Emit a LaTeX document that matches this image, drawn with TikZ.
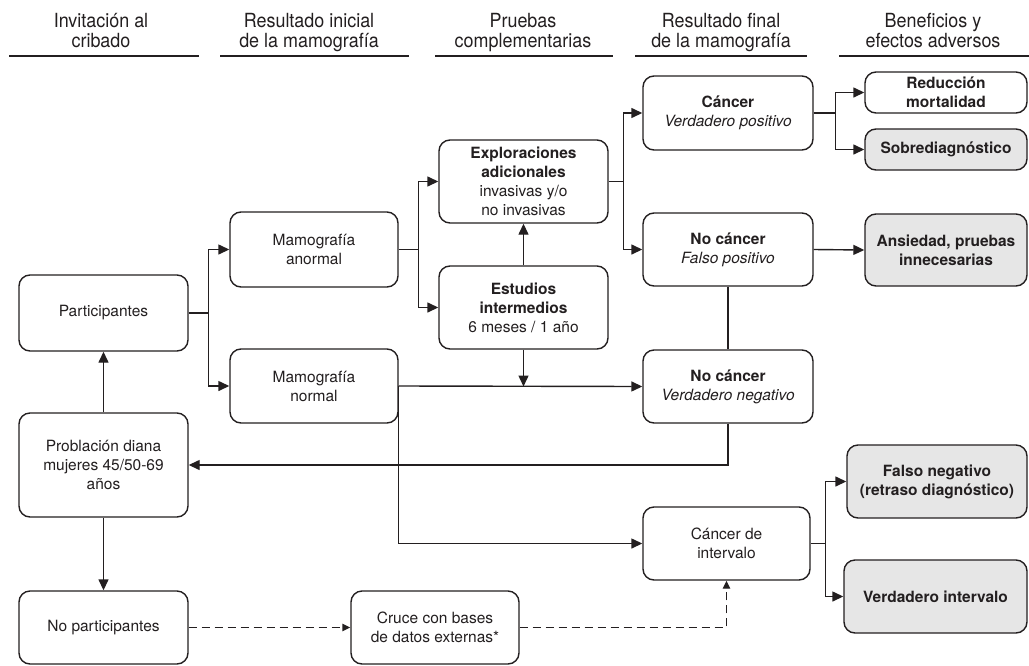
\documentclass[tikz,border=0pt]{standalone}
\usepackage{fontspec}
\setmainfont{TeX Gyre Heros}
\newfontfamily\headfamily[FakeStretch=0.92]{TeX Gyre Heros}
\usetikzlibrary{arrows.meta,calc}
\definecolor{ink}{RGB}{35,31,32}
\definecolor{shade}{RGB}{230,230,230}
\newcommand{\boxfont}{\fontsize{15.5}{19}\selectfont}
\newcommand{\headfont}{\headfamily\fontsize{19.5}{20}\selectfont}
\tikzset{
  box/.style={draw=ink, line width=1.4pt, rounded corners=11pt, fill=#1, align=center, font=\boxfont, text=ink, inner sep=2pt},
  box/.default={white},
  sz/.style 2 args={minimum width=#1, minimum height=#2},
  head/.style={font=\headfont, align=center, text=ink, inner sep=0pt, anchor=base},
  rule/.style={draw=ink, line width=1.6pt},
  link/.style={line width=1.4pt, draw=ink},
  arrow/.style={-{Triangle[length=11pt,width=10pt]}, line width=1.4pt, draw=ink},
  dasharrow/.style={-{Triangle[length=8pt,width=7.5pt]}, line width=1.4pt, draw=ink, dash pattern=on 8pt off 5pt}
}

\begin{document}
\begin{tikzpicture}[x=1pt, y=-1pt]
  \useasboundingbox (0,0) rectangle (1029,665);
  % column headers
  \node[head] (h1) at (101,47.5) {Invitación al\\cribado};
  \node[head] (h2) at (309,47.5) {Resultado inicial\\de la mamografía};
  \node[head] (h3) at (523,47.5) {Pruebas\\complementarias};
  \node[head] (h4) at (721,47.5) {Resultado final\\de la mamografía};
  \node[head] (h5) at (933,47.5) {Beneficios y\\efectos adversos};
  \foreach \xa/\xb in {9/199,220/409,435/613,635/807,839/1029}
    \draw[rule] (\xa,56) -- (\xb,56);

  % boxes
  \node[box, sz={169pt}{76pt}] (part) at (103.5,313) {Participantes};
  \node[box, sz={169pt}{104pt}] (pob) at (103.5,465) {Problación diana\\mujeres 45/50-69\\años};
  \node[box, sz={169pt}{73pt}] (nopart) at (103.5,627.5) {No participantes};
  \node[box, sz={168pt}{75pt}] (anorm) at (314,249.5) {Mamografía\\anormal};
  \node[box, sz={168pt}{74pt}] (norm) at (314,386) {Mamografía\\normal};
  \node[box, sz={169pt}{83pt}] (explo) at (523.5,181.5) {\textbf{Exploraciones}\\\textbf{adicionales}\\invasivas y/o\\no invasivas};
  \node[box, sz={169pt}{83pt}] (estud) at (523.5,307.5) {\textbf{Estudios}\\\textbf{intermedios}\\6 meses / 1 año};
  \node[box, sz={168pt}{73pt}] (cruce) at (435,627.5) {Cruce con bases\\de datos externas*};
  \node[box, sz={170pt}{74pt}] (vp) at (728,113) {\textbf{Cáncer}\\\textit{Verdadero positivo}};
  \node[box, sz={170pt}{73pt}] (fp) at (728,249.5) {\textbf{No cáncer}\\\textit{Falso positivo}};
  \node[box, sz={170pt}{73pt}] (vn) at (728,386.5) {\textbf{No cáncer}\\\textit{Verdadero negativo}};
  \node[box, sz={167pt}{73pt}] (intv) at (726.5,543.5) {Cáncer de\\intervalo};
  \node[box, sz={162pt}{41pt}, font=\boxfont\bfseries] (redu) at (946,92.5) {Reducción\\mortalidad};
  \node[box=shade, sz={162pt}{41pt}, font=\boxfont\bfseries] (sobre) at (946,149.5) {Sobrediagnóstico};
  \node[box=shade, sz={162pt}{72pt}, font=\boxfont\bfseries] (ansi) at (946,250) {Ansiedad, pruebas\\innecesarias};
  \node[box=shade, sz={180pt}{73pt}, font=\boxfont\bfseries] (fneg) at (937,481.5) {Falso negativo\\(retraso diagnóstico)};
  \node[box=shade, sz={183pt}{73pt}, font=\boxfont\bfseries] (vint) at (935.5,596.5) {Verdadero intervalo};

  % connectors
  \draw[link] (part.east) -- ++(20,0) coordinate (j1);
  \draw[arrow] (j1) |- (anorm.west);
  \draw[arrow] (j1) |- (norm.west);
  \draw[link] (anorm.east) -- ++(20,0) coordinate (j2);
  \draw[arrow] (j2) |- (explo.west);
  \draw[arrow] (j2) |- (estud.west);
  \draw[arrow] (estud.north) -- (explo.south);
  \draw[arrow] (estud.south) -- (estud.south |- vn.west);
  \draw[arrow] (norm.east) -- (vn.west);
  \draw[arrow] (norm.east) |- (intv.west);
  \draw[link] (explo.east) -- ++(15,0) coordinate (j3);
  \draw[arrow] (j3) |- (vp.west);
  \draw[arrow] (j3) |- (fp.west);
  \draw[link] (vp.east) -- ++(22,0) coordinate (j4);
  \draw[arrow] (j4) |- (redu.west);
  \draw[arrow] (j4) |- (sobre.west);
  \draw[arrow] (fp.east) -- (ansi.west);
  \draw[link] (fp.south) -- (vn.north);
  \draw[arrow] (vn.south) |- (pob.east);
  \draw[link] (intv.east) -- ++(15,0) coordinate (j5);
  \draw[arrow] (j5) |- (fneg.west);
  \draw[arrow] (j5) |- (vint.west);
  \draw[arrow] (pob.north) -- (part.south);
  \draw[arrow] (pob.south) -- (nopart.north);
  \draw[dasharrow] (nopart.east) -- (cruce.west);
  \draw[dasharrow] (cruce.east) -| (intv.south);
\end{tikzpicture}
\end{document}
